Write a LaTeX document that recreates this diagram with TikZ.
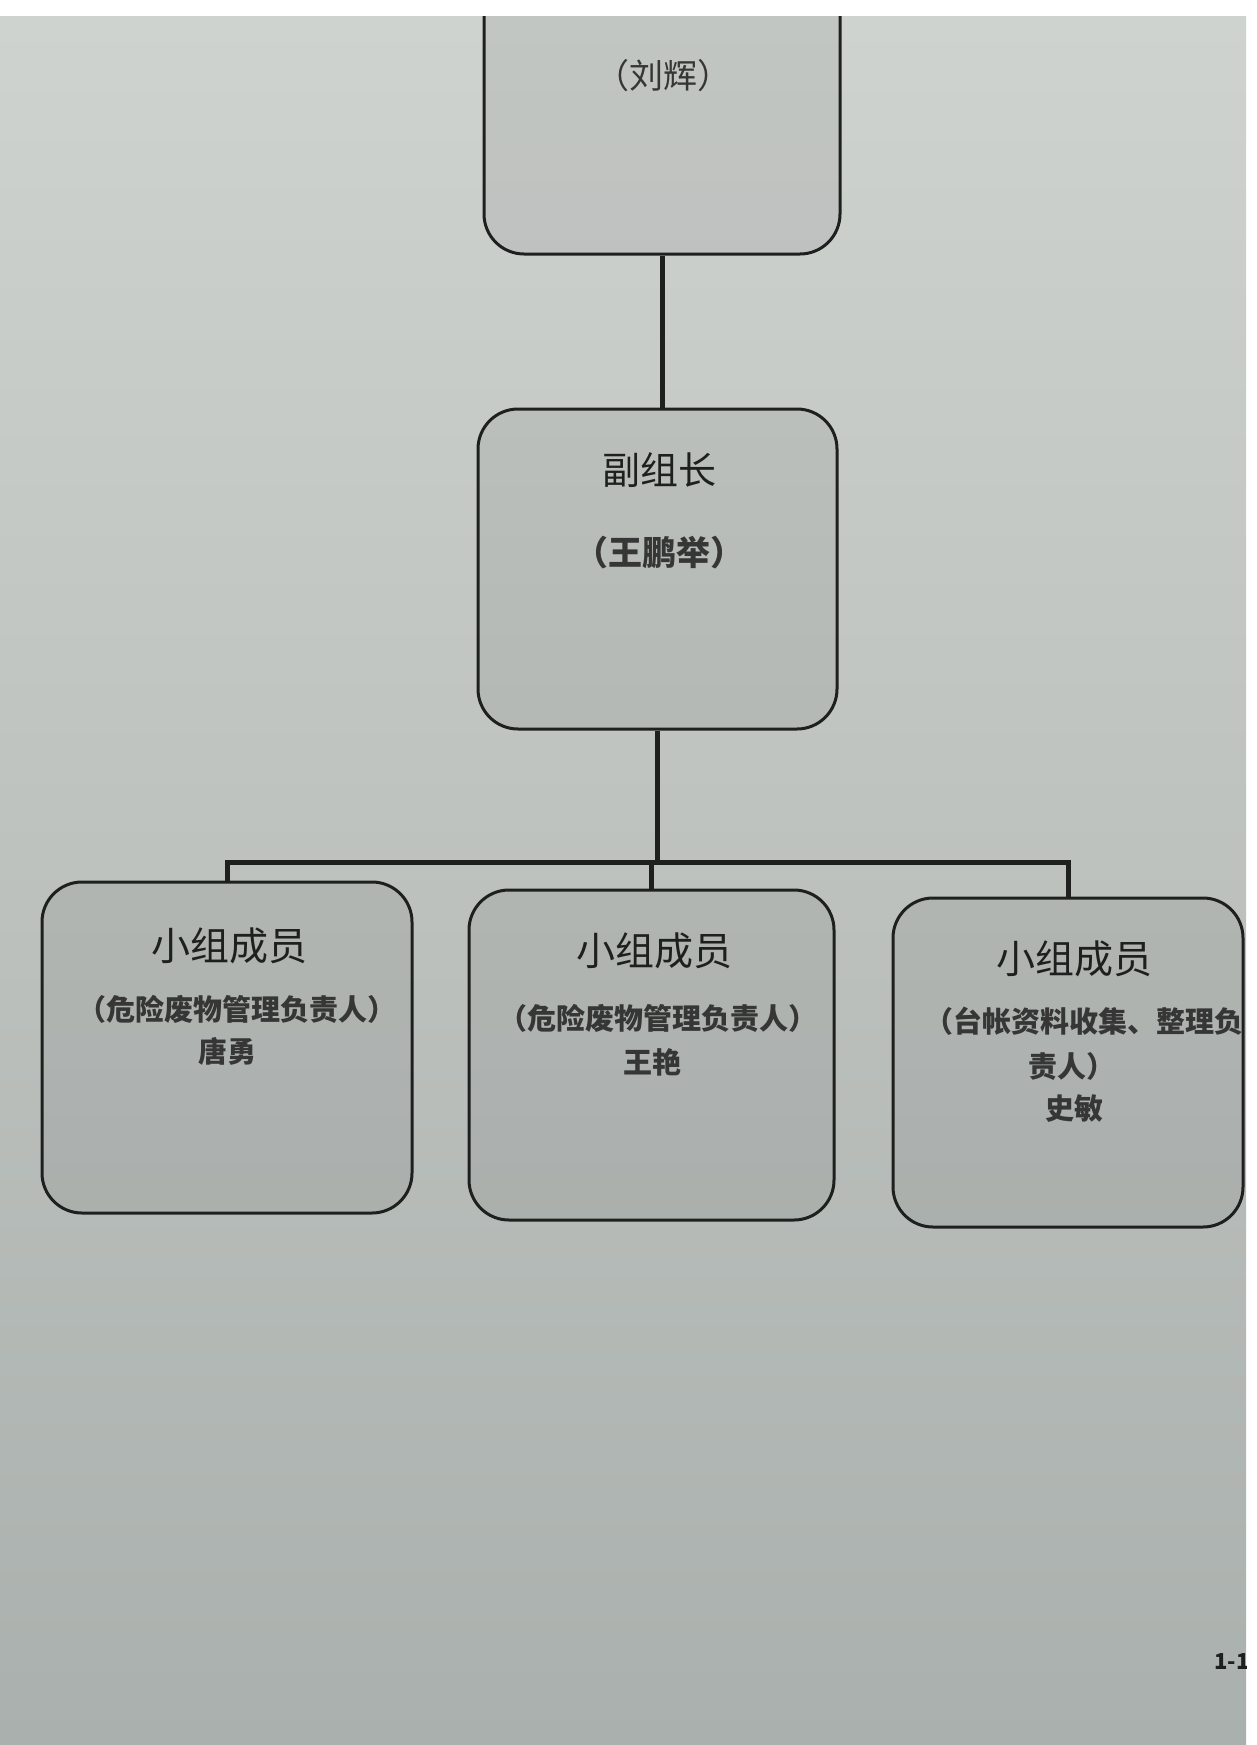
\documentclass[tikz,border=0pt]{standalone}
\usepackage{fontspec}
\newfontfamily\cjk{Noto Sans CJK SC}
\definecolor{bgtop}{HTML}{CFD3D0}
\definecolor{bgbot}{HTML}{AAB0AD}
\definecolor{ink}{HTML}{1E201F}
\begin{document}
\begin{tikzpicture}[x=1pt,y=-1pt,
  box/.style={draw=ink, line width=3pt, rounded corners=40pt, fill=black, fill opacity=0.06, draw opacity=1, inner sep=0pt},
  conn/.style={draw=ink, line width=5pt},
  ttl/.style={font=\cjk\fontsize{39}{42}\selectfont, text=ink, inner sep=0pt},
  sub/.style={font=\cjk\bfseries\fontsize{29}{32}\selectfont, text=ink!90, inner sep=0pt},
  pnum/.style={font=\cjk\bfseries\fontsize{22}{24}\selectfont, text=ink, inner sep=0pt}]
\useasboundingbox (0,0) rectangle (1256,1745);
\fill[white] (0,0) rectangle (1256,1745);
\shade[top color=bgtop, bottom color=bgbot] (0,17) rectangle (1246,1745);
\begin{scope}
\clip (0,17) rectangle (1246,1745);
% boxes
\node[box, minimum width=356pt, minimum height=294pt] (head) at (662,107) {};
\node[box, minimum width=359pt, minimum height=320pt] (vice) at (657.5,569) {};
\node[box, minimum width=370pt, minimum height=331pt] (m1) at (227,1047.5) {};
\node[box, minimum width=365pt, minimum height=330pt] (m2) at (651.5,1055) {};
\node[box, minimum width=350pt, minimum height=329pt] (m3) at (1068,1062.5) {};
% connectors
\coordinate (bar) at (657,862);
\draw[conn] (head.south) -- (head.south |- vice.north);
\draw[conn] (vice.south) -- (vice.south |- bar);
\draw[conn] (m1.north) |- (bar) -| (m3.north);
\draw[conn] (m2.north |- bar) -- (m2.north);
% texts
\node[sub, font=\cjk\fontsize{34}{36}\selectfont] (t0) at (663,76) {（刘辉）};
\node[ttl, font=\cjk\fontsize{38}{42}\selectfont] (t1a) at (659,470) {副组长};
\node[sub, font=\cjk\bfseries\fontsize{34}{36}\selectfont] (t1b) at (659,553) {（王鹏举）};
\node[ttl] (t2a) at (229,946) {小组成员};
\node[sub] (t2b) at (237,1009) {（危险废物管理负责人）};
\node[sub] (t2c) at (227,1051) {唐勇};
\node[ttl] (t3a) at (654,951) {小组成员};
\node[sub] (t3b) at (658,1018) {（危险废物管理负责人）};
\node[sub] (t3c) at (652,1062) {王艳};
\node[ttl] (t4a) at (1074,959) {小组成员};
\node[sub, anchor=west] (t4b) at (924,1021) {（台帐资料收集、整理负};
\node[sub] (t4c) at (1072,1066) {责人）};
\node[sub] (t4d) at (1074,1109) {史敏};
\node[pnum, anchor=west] (pg) at (1214,1661) {1-1};
\end{scope}
\end{tikzpicture}
\end{document}
